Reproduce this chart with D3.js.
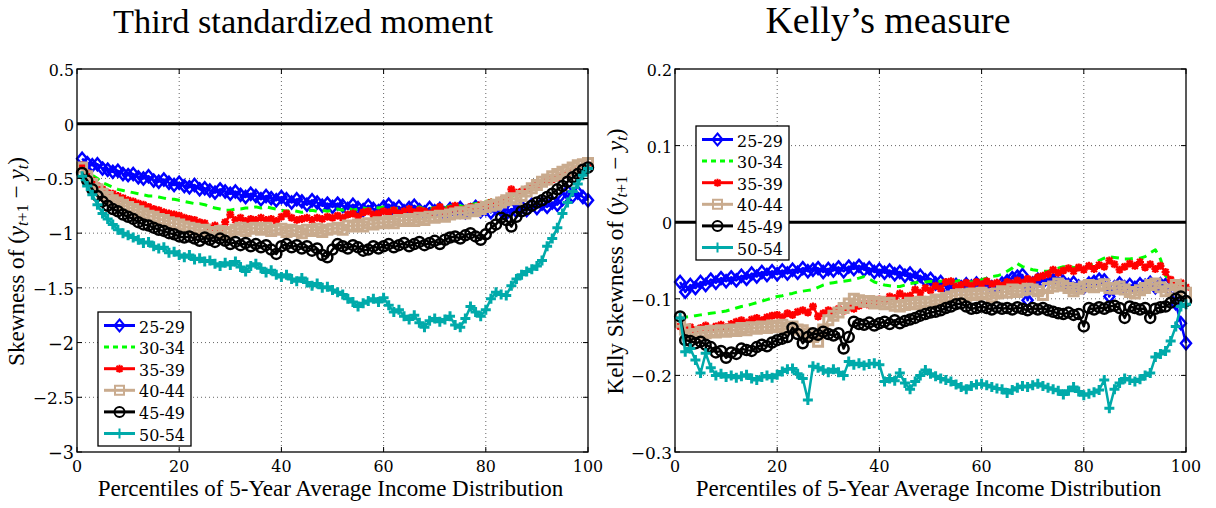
<!DOCTYPE html>
<html><head><meta charset="utf-8">
<script src="https://cdn.jsdelivr.net/npm/d3@7"></script>
<style>body{margin:0;background:#fff}svg{display:block}</style>
</head><body>
<svg id="c" width="1216" height="508"></svg>
<script>
// ---------- DATA ----------
const percentiles = d3.range(1, 101);
const groups = ["25-29","30-34","35-39","40-44","45-49","50-54"];

// Left panel: third standardized moment
const L_25_29 = [-0.32,-0.36,-0.38,-0.37,-0.41,-0.42,-0.44,-0.43,-0.46,-0.47,
-0.46,-0.49,-0.50,-0.48,-0.52,-0.53,-0.51,-0.54,-0.56,-0.54,
-0.57,-0.58,-0.56,-0.60,-0.59,-0.61,-0.63,-0.60,-0.62,-0.64,
-0.62,-0.65,-0.67,-0.64,-0.66,-0.69,-0.66,-0.68,-0.70,-0.67,
-0.69,-0.72,-0.69,-0.71,-0.74,-0.70,-0.72,-0.75,-0.73,-0.76,
-0.73,-0.75,-0.78,-0.74,-0.77,-0.79,-0.75,-0.78,-0.80,-0.76,
-0.74,-0.78,-0.76,-0.80,-0.77,-0.75,-0.79,-0.81,-0.77,-0.80,
-0.78,-0.82,-0.78,-0.80,-0.77,-0.81,-0.79,-0.76,-0.80,-0.78,
-0.81,-0.77,-0.79,-0.82,-0.78,-0.80,-0.76,-0.79,-0.74,-0.77,
-0.73,-0.76,-0.72,-0.74,-0.69,-0.62,-0.66,-0.63,-0.67,-0.70];
const L_30_34 = [-0.39,-0.43,-0.47,-0.50,-0.54,-0.56,-0.58,-0.60,-0.61,-0.62,
-0.63,-0.64,-0.65,-0.66,-0.66,-0.67,-0.68,-0.69,-0.69,-0.70,
-0.71,-0.72,-0.73,-0.73,-0.74,-0.76,-0.77,-0.78,-0.79,-0.79,
-0.78,-0.78,-0.77,-0.77,-0.76,-0.77,-0.76,-0.77,-0.78,-0.79,
-0.80,-0.79,-0.80,-0.81,-0.80,-0.79,-0.80,-0.79,-0.80,-0.79,
-0.78,-0.79,-0.77,-0.79,-0.78,-0.77,-0.78,-0.76,-0.77,-0.76,
-0.77,-0.78,-0.77,-0.79,-0.78,-0.77,-0.76,-0.78,-0.77,-0.77,
-0.76,-0.77,-0.75,-0.76,-0.75,-0.76,-0.74,-0.73,-0.72,-0.71,
-0.70,-0.69,-0.68,-0.67,-0.66,-0.64,-0.63,-0.61,-0.60,-0.58,
-0.56,-0.55,-0.52,-0.50,-0.48,-0.46,-0.44,-0.42,-0.41,-0.40];
const L_35_39 = [-0.38,-0.45,-0.52,-0.57,-0.60,-0.63,-0.64,-0.66,-0.68,-0.70,
-0.71,-0.73,-0.74,-0.76,-0.78,-0.79,-0.81,-0.82,-0.83,-0.84,
-0.86,-0.87,-0.88,-0.90,-0.91,-0.95,-0.93,-0.96,-0.90,-0.83,
-0.88,-0.86,-0.89,-0.87,-0.88,-0.86,-0.88,-0.87,-0.89,-0.85,
-0.82,-0.86,-0.88,-0.87,-0.86,-0.88,-0.86,-0.87,-0.85,-0.86,
-0.84,-0.86,-0.83,-0.82,-0.85,-0.81,-0.80,-0.83,-0.82,-0.80,
-0.81,-0.79,-0.82,-0.80,-0.78,-0.81,-0.79,-0.80,-0.82,-0.79,
-0.76,-0.80,-0.78,-0.75,-0.79,-0.78,-0.76,-0.77,-0.74,-0.75,
-0.72,-0.73,-0.70,-0.69,-0.60,-0.63,-0.62,-0.60,-0.58,-0.56,
-0.54,-0.53,-0.51,-0.49,-0.47,-0.45,-0.43,-0.41,-0.40,-0.38];
const L_40_44 = [-0.40,-0.48,-0.55,-0.60,-0.64,-0.67,-0.70,-0.72,-0.74,-0.76,
-0.78,-0.80,-0.82,-0.84,-0.85,-0.87,-0.88,-0.90,-0.91,-0.92,
-0.94,-0.95,-0.96,-0.98,-0.97,-0.99,-1.00,-0.98,-1.00,-0.99,
-0.97,-0.95,-0.98,-0.96,-0.95,-0.97,-0.95,-0.98,-0.97,-0.96,
-0.99,-0.97,-0.98,-1.00,-0.97,-0.98,-0.96,-0.99,-0.97,-0.96,
-0.95,-0.97,-0.93,-0.94,-0.92,-0.94,-0.91,-0.92,-0.90,-0.91,
-0.89,-0.91,-0.88,-0.89,-0.87,-0.89,-0.86,-0.88,-0.85,-0.86,
-0.84,-0.85,-0.83,-0.82,-0.81,-0.82,-0.79,-0.80,-0.78,-0.76,
-0.75,-0.74,-0.72,-0.70,-0.68,-0.69,-0.66,-0.62,-0.59,-0.56,
-0.53,-0.51,-0.48,-0.46,-0.44,-0.42,-0.40,-0.38,-0.37,-0.36];
const L_45_49 = [-0.45,-0.52,-0.60,-0.66,-0.71,-0.75,-0.78,-0.80,-0.83,-0.85,
-0.87,-0.90,-0.92,-0.93,-0.95,-0.97,-0.98,-1.00,-1.01,-1.03,
-1.04,-1.03,-1.05,-1.07,-1.04,-1.06,-1.08,-1.05,-1.07,-1.10,
-1.08,-1.11,-1.09,-1.12,-1.10,-1.13,-1.11,-1.15,-1.19,-1.12,
-1.10,-1.13,-1.11,-1.14,-1.12,-1.16,-1.14,-1.20,-1.22,-1.15,
-1.10,-1.12,-1.14,-1.11,-1.13,-1.16,-1.15,-1.12,-1.14,-1.12,
-1.10,-1.13,-1.11,-1.09,-1.12,-1.10,-1.08,-1.11,-1.09,-1.07,
-1.10,-1.06,-1.04,-1.03,-1.05,-1.02,-1.00,-1.03,-1.06,-1.01,
-0.95,-0.92,-0.86,-0.88,-0.94,-0.85,-0.80,-0.78,-0.75,-0.72,
-0.70,-0.67,-0.64,-0.60,-0.57,-0.53,-0.49,-0.46,-0.42,-0.40];
const L_50_54 = [-0.48,-0.57,-0.65,-0.74,-0.82,-0.87,-0.92,-0.97,-1.00,-1.02,
-1.04,-1.06,-1.09,-1.08,-1.12,-1.14,-1.13,-1.18,-1.17,-1.20,
-1.22,-1.20,-1.24,-1.23,-1.26,-1.25,-1.28,-1.30,-1.27,-1.29,
-1.26,-1.31,-1.35,-1.30,-1.28,-1.32,-1.36,-1.34,-1.38,-1.40,
-1.38,-1.42,-1.44,-1.41,-1.45,-1.48,-1.46,-1.50,-1.49,-1.52,
-1.54,-1.56,-1.60,-1.63,-1.67,-1.64,-1.62,-1.60,-1.63,-1.59,
-1.66,-1.72,-1.70,-1.76,-1.79,-1.75,-1.82,-1.86,-1.80,-1.78,
-1.81,-1.79,-1.76,-1.84,-1.86,-1.78,-1.67,-1.72,-1.76,-1.70,
-1.60,-1.54,-1.56,-1.57,-1.48,-1.42,-1.38,-1.35,-1.33,-1.30,
-1.25,-1.12,-1.05,-0.95,-0.82,-0.72,-0.62,-0.55,-0.47,-0.41];

// Right panel: Kelly's measure
const R_25_29 = [-0.078,-0.091,-0.082,-0.086,-0.078,-0.082,-0.075,-0.079,-0.073,-0.077,
-0.072,-0.076,-0.070,-0.074,-0.067,-0.071,-0.065,-0.069,-0.064,-0.068,
-0.063,-0.067,-0.062,-0.066,-0.060,-0.064,-0.062,-0.060,-0.065,-0.061,
-0.063,-0.059,-0.064,-0.058,-0.061,-0.057,-0.062,-0.060,-0.065,-0.062,
-0.066,-0.063,-0.068,-0.065,-0.070,-0.067,-0.073,-0.070,-0.076,-0.074,
-0.080,-0.078,-0.084,-0.086,-0.082,-0.085,-0.081,-0.084,-0.080,-0.083,
-0.081,-0.085,-0.084,-0.080,-0.077,-0.073,-0.071,-0.069,-0.102,-0.080,
-0.075,-0.078,-0.073,-0.076,-0.072,-0.078,-0.082,-0.079,-0.084,-0.085,
-0.080,-0.078,-0.075,-0.076,-0.097,-0.085,-0.080,-0.085,-0.082,-0.086,
-0.081,-0.083,-0.079,-0.085,-0.081,-0.082,-0.090,-0.106,-0.132,-0.158];
const R_30_34 = [-0.125,-0.124,-0.123,-0.122,-0.121,-0.120,-0.119,-0.118,-0.117,-0.116,
-0.114,-0.112,-0.110,-0.109,-0.107,-0.105,-0.103,-0.101,-0.099,-0.097,
-0.096,-0.094,-0.093,-0.091,-0.090,-0.089,-0.088,-0.085,-0.082,-0.080,
-0.079,-0.078,-0.077,-0.076,-0.075,-0.073,-0.071,-0.074,-0.078,-0.080,
-0.082,-0.083,-0.084,-0.084,-0.082,-0.080,-0.079,-0.078,-0.078,-0.077,
-0.078,-0.077,-0.076,-0.077,-0.077,-0.076,-0.077,-0.078,-0.077,-0.075,
-0.073,-0.071,-0.070,-0.068,-0.064,-0.060,-0.054,-0.058,-0.060,-0.062,
-0.063,-0.064,-0.064,-0.062,-0.060,-0.058,-0.058,-0.059,-0.059,-0.059,
-0.057,-0.054,-0.050,-0.047,-0.045,-0.046,-0.047,-0.048,-0.048,-0.047,
-0.047,-0.045,-0.040,-0.036,-0.048,-0.070,-0.075,-0.080,-0.082,-0.085];
const R_35_39 = [-0.136,-0.140,-0.137,-0.141,-0.138,-0.135,-0.139,-0.136,-0.134,-0.137,
-0.133,-0.130,-0.128,-0.131,-0.127,-0.125,-0.128,-0.124,-0.122,-0.121,
-0.124,-0.119,-0.121,-0.117,-0.115,-0.118,-0.110,-0.123,-0.119,-0.115,
-0.117,-0.113,-0.116,-0.111,-0.113,-0.109,-0.106,-0.108,-0.104,-0.101,
-0.103,-0.097,-0.099,-0.093,-0.097,-0.096,-0.088,-0.092,-0.086,-0.089,
-0.083,-0.087,-0.078,-0.077,-0.084,-0.082,-0.079,-0.083,-0.078,-0.081,
-0.077,-0.081,-0.079,-0.083,-0.078,-0.080,-0.076,-0.079,-0.074,-0.076,
-0.072,-0.070,-0.068,-0.062,-0.066,-0.063,-0.060,-0.064,-0.059,-0.062,
-0.057,-0.061,-0.056,-0.058,-0.050,-0.055,-0.062,-0.058,-0.054,-0.057,
-0.052,-0.059,-0.055,-0.061,-0.057,-0.065,-0.075,-0.082,-0.079,-0.085];
const R_40_44 = [-0.130,-0.140,-0.147,-0.146,-0.143,-0.145,-0.142,-0.144,-0.141,-0.143,
-0.140,-0.142,-0.138,-0.141,-0.137,-0.139,-0.136,-0.138,-0.135,-0.137,
-0.134,-0.138,-0.136,-0.140,-0.141,-0.145,-0.150,-0.156,-0.140,-0.128,
-0.122,-0.118,-0.112,-0.106,-0.100,-0.102,-0.104,-0.103,-0.106,-0.104,
-0.107,-0.105,-0.109,-0.110,-0.108,-0.105,-0.107,-0.104,-0.106,-0.104,
-0.101,-0.103,-0.099,-0.097,-0.095,-0.094,-0.096,-0.093,-0.095,-0.092,
-0.094,-0.098,-0.093,-0.090,-0.092,-0.088,-0.091,-0.089,-0.087,-0.088,
-0.090,-0.095,-0.086,-0.084,-0.080,-0.083,-0.086,-0.090,-0.087,-0.084,
-0.082,-0.085,-0.083,-0.081,-0.086,-0.087,-0.084,-0.088,-0.091,-0.093,
-0.089,-0.086,-0.082,-0.080,-0.085,-0.090,-0.088,-0.082,-0.086,-0.092];
const R_45_49 = [-0.123,-0.154,-0.155,-0.158,-0.156,-0.160,-0.163,-0.170,-0.168,-0.177,
-0.170,-0.172,-0.165,-0.167,-0.168,-0.163,-0.160,-0.162,-0.157,-0.154,
-0.152,-0.150,-0.138,-0.146,-0.158,-0.150,-0.145,-0.147,-0.143,-0.146,
-0.148,-0.145,-0.165,-0.150,-0.130,-0.133,-0.134,-0.131,-0.135,-0.132,
-0.130,-0.133,-0.128,-0.132,-0.129,-0.127,-0.125,-0.122,-0.120,-0.118,
-0.117,-0.115,-0.112,-0.110,-0.107,-0.106,-0.110,-0.113,-0.112,-0.110,
-0.112,-0.114,-0.111,-0.113,-0.112,-0.114,-0.111,-0.113,-0.115,-0.112,
-0.114,-0.112,-0.115,-0.117,-0.119,-0.120,-0.118,-0.121,-0.120,-0.136,
-0.112,-0.114,-0.111,-0.113,-0.110,-0.109,-0.112,-0.125,-0.110,-0.112,
-0.114,-0.112,-0.125,-0.113,-0.111,-0.110,-0.105,-0.100,-0.097,-0.103];
const R_50_54 = [-0.125,-0.169,-0.165,-0.180,-0.197,-0.171,-0.190,-0.200,-0.198,-0.202,
-0.200,-0.203,-0.201,-0.199,-0.204,-0.206,-0.202,-0.200,-0.203,-0.199,
-0.195,-0.192,-0.191,-0.198,-0.204,-0.232,-0.188,-0.190,-0.193,-0.196,
-0.192,-0.196,-0.200,-0.182,-0.186,-0.184,-0.187,-0.185,-0.184,-0.186,
-0.208,-0.204,-0.207,-0.197,-0.210,-0.218,-0.208,-0.200,-0.193,-0.198,
-0.201,-0.204,-0.206,-0.208,-0.212,-0.215,-0.218,-0.214,-0.212,-0.211,
-0.213,-0.215,-0.217,-0.218,-0.223,-0.219,-0.216,-0.214,-0.215,-0.213,
-0.211,-0.214,-0.216,-0.218,-0.220,-0.225,-0.220,-0.215,-0.221,-0.226,
-0.224,-0.222,-0.219,-0.206,-0.243,-0.218,-0.210,-0.204,-0.206,-0.208,
-0.205,-0.200,-0.197,-0.176,-0.172,-0.168,-0.155,-0.136,-0.110,-0.107];

const xTicks = [0,20,40,60,80,100];
const xTickLabels = ["0","20","40","60","80","100"];
const leftYTicks = [0.5,0,-0.5,-1,-1.5,-2,-2.5,-3];
const leftYTickLabels = ["0.5","0","\u22120.5","\u22121","\u22121.5","\u22122","\u22122.5","\u22123"];
const rightYTicks = [0.2,0.1,0,-0.1,-0.2,-0.3];
const rightYTickLabels = ["0.2","0.1","0","\u22120.1","\u22120.2","\u22120.3"];

// ---------- STYLE ----------
const FONT = '"Times New Roman", "Liberation Serif", serif';
const NUMFONT = '"DejaVu Serif", "Times New Roman", serif';
const styles = [
  {color:"#0000ff", marker:"diamond", dash:null},
  {color:"#00ff00", marker:null, dash:"8,6"},
  {color:"#ff0000", marker:"star", dash:null},
  {color:"#c9ab8e", marker:"square", dash:null},
  {color:"#000000", marker:"circle", dash:null},
  {color:"#00aaaa", marker:"plus", dash:null}
];
const markerPath = {
  diamond:"M0,-6L5,0L0,6L-5,0Z",
  square:"M-4.5,-4.5H4.5V4.5H-4.5Z",
  circle:"M5,0A5,5 0 1,1 -5,0A5,5 0 1,1 5,0Z",
  plus:"M-5,0H5M0,-5V5",
  star:"M-4,0H4M0,-4V4M-3,-3L3,3M-3,3L3,-3"
};
const markerWidth = {diamond:2.5, square:3, circle:2.5, plus:3, star:2.2};

const svg = d3.select("#c");
function T(sel){ return sel.style("font-family", FONT); }
function N(sel){ return sel.style("font-family", NUMFONT); }
// size each text so that its measured width matches the target width
function fitEach(sel, widthOf){
  sel.each(function(d,i){
    const s = d3.select(this);
    const fs = parseFloat(s.attr("font-size"));
    const cur = this.getComputedTextLength();
    const w = widthOf(this, d, i);
    if(cur>0 && w) s.attr("font-size", (fs*w/cur).toFixed(2));
  });
  return sel;
}

function panel(cfg){
  const x = d3.scaleLinear().domain([0,100]).range([cfg.x0, cfg.x1]);
  const y = d3.scaleLinear().domain(cfg.yDomain).range([cfg.y1, cfg.y0]);
  const g = svg.append("g");

  // grid
  g.selectAll(".vg").data(xTicks.slice(1,-1)).join("line")
    .attr("x1",d=>x(d)).attr("x2",d=>x(d)).attr("y1",cfg.y0).attr("y2",cfg.y1)
    .attr("stroke","#555").attr("stroke-width",0.9).attr("stroke-dasharray","1,3");
  g.selectAll(".hg").data(cfg.yTicks.filter(t=>t!==cfg.yDomain[0] && t!==cfg.yDomain[1])).join("line")
    .attr("x1",cfg.x0).attr("x2",cfg.x1).attr("y1",d=>y(d)).attr("y2",d=>y(d))
    .attr("stroke","#555").attr("stroke-width",0.9).attr("stroke-dasharray","1,3");

  // zero line
  g.append("line").attr("x1",cfg.x0).attr("x2",cfg.x1).attr("y1",y(0)).attr("y2",y(0))
    .attr("stroke","#000").attr("stroke-width",3);

  // series
  const line = d3.line().x((d,i)=>x(percentiles[i])).y(d=>y(d));
  cfg.series.forEach((vals,k)=>{
    const st = styles[k];
    g.append("path").attr("d",line(vals)).attr("fill","none")
      .attr("stroke",st.color).attr("stroke-width",st.dash?3:2.5)
      .attr("stroke-linejoin","round")
      .attr("stroke-dasharray",st.dash);
    if(st.marker){
      g.selectAll(null).data(vals).join("path")
        .attr("transform",(d,i)=>`translate(${x(percentiles[i])},${y(d)})`)
        .attr("d",markerPath[st.marker]).attr("fill","none")
        .attr("stroke",st.color).attr("stroke-width",markerWidth[st.marker]);
    }
  });

  // axes box + inner ticks
  g.append("rect").attr("x",cfg.x0).attr("y",cfg.y0).attr("width",cfg.x1-cfg.x0).attr("height",cfg.y1-cfg.y0)
    .attr("fill","none").attr("stroke","#000").attr("stroke-width",1.3);
  xTicks.forEach(t=>{
    g.append("line").attr("x1",x(t)).attr("x2",x(t)).attr("y1",cfg.y1).attr("y2",cfg.y1-5).attr("stroke","#000");
    g.append("line").attr("x1",x(t)).attr("x2",x(t)).attr("y1",cfg.y0).attr("y2",cfg.y0+5).attr("stroke","#000");
  });
  cfg.yTicks.forEach(t=>{
    g.append("line").attr("x1",cfg.x0).attr("x2",cfg.x0+5).attr("y1",y(t)).attr("y2",y(t)).attr("stroke","#000");
    g.append("line").attr("x1",cfg.x1).attr("x2",cfg.x1-5).attr("y1",y(t)).attr("y2",y(t)).attr("stroke","#000");
  });
  // tick labels: digit width ~10px in reference
  fitEach(N(g.selectAll(".xl").data(xTicks).join("text")
    .attr("x",d=>x(d)).attr("y",cfg.y1+20).attr("text-anchor","middle")
    .attr("font-size",20).text((d,i)=>xTickLabels[i])),
    (n,d,i)=>xTickLabels[i].length*10.1);
  fitEach(N(g.selectAll(".yl").data(cfg.yTicks).join("text")
    .attr("x",cfg.x0-3).attr("y",d=>y(d)+7).attr("text-anchor","end")
    .attr("font-size",20).text((d,i)=>cfg.yTickLabels[i])),
    (n,d,i)=>{const s=cfg.yTickLabels[i]; let w=0; for(const c of s){w+= c==="."?5.05:(c==="\u2212"?16:10.1);} return w;});

  // title
  fitEach(T(g.append("text").attr("x",cfg.titleX).attr("y",33).attr("text-anchor","middle")
    .attr("font-size",32).text(cfg.title)), ()=>cfg.titleW);
  // x label
  fitEach(T(g.append("text").attr("x",(cfg.x0+cfg.x1)/2 - 2).attr("y",496).attr("text-anchor","middle")
    .attr("font-size",20).text("Percentiles of 5-Year Average Income Distribution")), ()=>466);
  // y label
  const yl = T(g.append("text").attr("transform",`translate(${cfg.ylabX},${(cfg.y0+cfg.y1)/2+1}) rotate(-90)`)
    .attr("text-anchor","middle").attr("font-size",20));
  yl.append("tspan").text(cfg.ylabPrefix + "(");
  yl.append("tspan").attr("font-style","italic").text("y");
  yl.append("tspan").attr("font-size",14).attr("dy",4).attr("font-style","italic").text("t");
  yl.append("tspan").attr("font-size",14).text("+1");
  yl.append("tspan").attr("dy",-4).text(" \u2212 ");
  yl.append("tspan").attr("font-style","italic").text("y");
  yl.append("tspan").attr("font-size",14).attr("dy",4).attr("font-style","italic").text("t");
  yl.append("tspan").attr("dy",-4).text(")");
  const ylen = yl.node().getComputedTextLength();
  const ysc = cfg.ylabW / (ylen>0?ylen:cfg.ylabW);
  yl.attr("font-size",(20*ysc).toFixed(2));
  yl.selectAll("tspan").filter(function(){return this.getAttribute("font-size");})
    .attr("font-size",(14*ysc).toFixed(2));

  // legend
  const lg = g.append("g");
  lg.append("rect").attr("x",cfg.legX).attr("y",cfg.legY).attr("width",93).attr("height",134)
    .attr("fill","#fff").attr("stroke","#000").attr("stroke-width",1.3);
  groups.forEach((name,k)=>{
    const st = styles[k];
    const ry = cfg.legY + 13.5 + k*21.6;
    lg.append("line").attr("x1",cfg.legX+6).attr("x2",cfg.legX+37).attr("y1",ry).attr("y2",ry)
      .attr("stroke",st.color).attr("stroke-width",3).attr("stroke-dasharray",st.dash?"5,4":null);
    if(st.marker) lg.append("path").attr("transform",`translate(${cfg.legX+21.5},${ry})`)
      .attr("d",markerPath[st.marker]).attr("fill","none").attr("stroke",st.color).attr("stroke-width",2);
    fitEach(N(lg.append("text").attr("x",cfg.legX+41).attr("y",ry+7).attr("font-size",20).text(name)), ()=>46);
  });
}

panel({x0:77,x1:588,y0:69,y1:452,yDomain:[-3,0.5],yTicks:leftYTicks,yTickLabels:leftYTickLabels,
  series:[L_25_29,L_30_34,L_35_39,L_40_44,L_45_49,L_50_54],
  title:"Third standardized moment",titleX:303,titleW:380,ylabX:24,ylabW:209,ylabPrefix:"Skewness of ",
  legX:98,legY:312});
panel({x0:675,x1:1186,y0:69,y1:452,yDomain:[-0.3,0.2],yTicks:rightYTicks,yTickLabels:rightYTickLabels,
  series:[R_25_29,R_30_34,R_35_39,R_40_44,R_45_49,R_50_54],
  title:"Kelly\u2019s measure",titleX:888,titleW:245,ylabX:623,ylabW:266,ylabPrefix:"Kelly Skewness of ",
  legX:696,legY:126});
</script>
</body></html>
